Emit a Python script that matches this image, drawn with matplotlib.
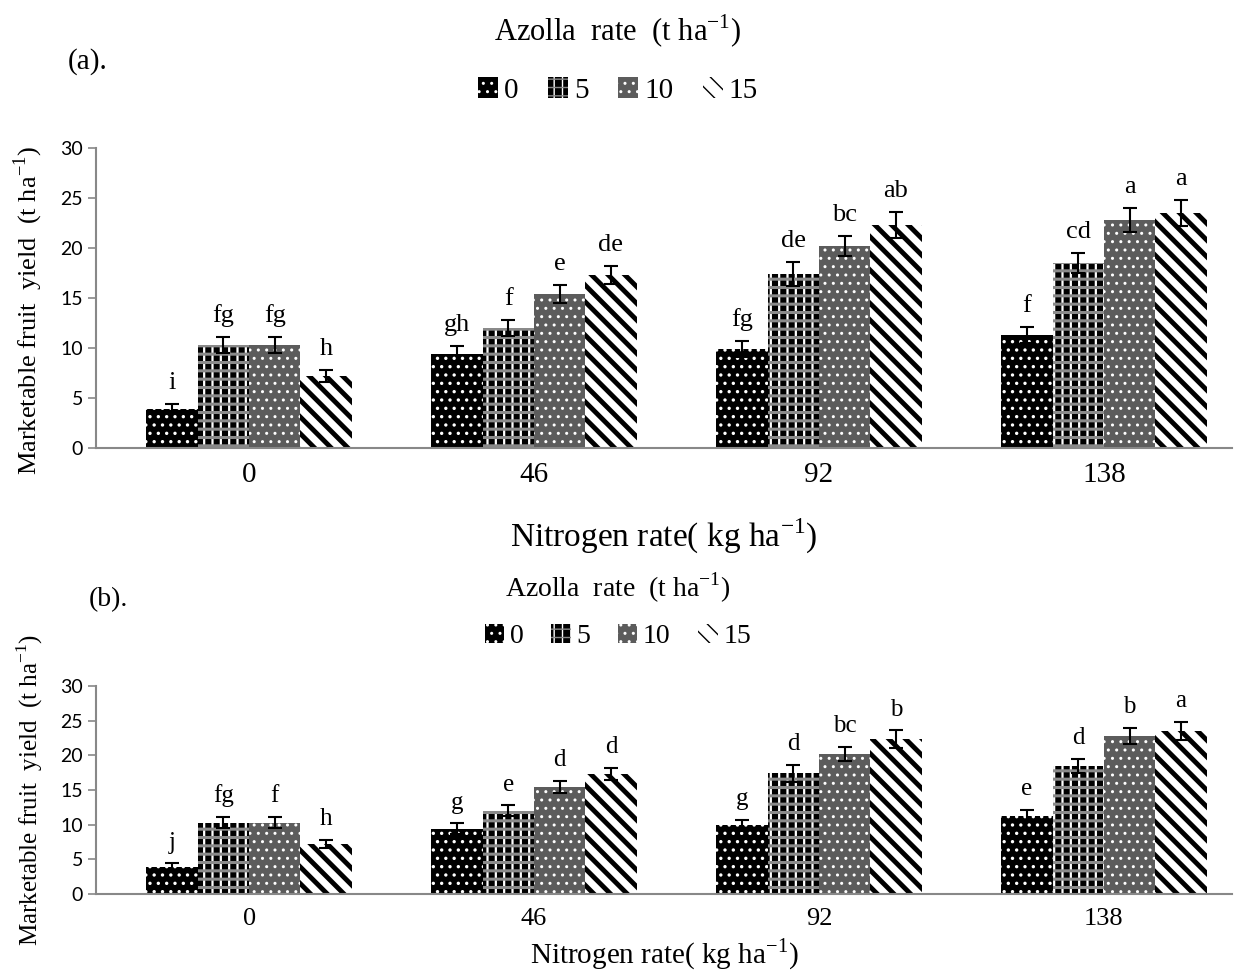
import matplotlib.pyplot as plt
import numpy as np

plt.rcParams['font.family'] = ['Liberation Serif', 'DejaVu Serif']

# nitrogen rates (x groups) and azolla rates (series)
nitrogen = ['0', '46', '92', '138']
azolla = ['0', '5', '10', '15']

# marketable fruit yield, t/ha, one list per azolla rate
yield_az0 = [3.9, 9.4, 9.9, 11.3]
yield_az5 = [10.3, 12.0, 17.4, 18.5]
yield_az10 = [10.3, 15.4, 20.2, 22.8]
yield_az15 = [7.2, 17.3, 22.3, 23.5]

err_az0 = [0.5, 0.8, 0.8, 0.8]
err_az5 = [0.8, 0.8, 1.2, 1.0]
err_az10 = [0.8, 0.9, 1.0, 1.2]
err_az15 = [0.6, 0.9, 1.3, 1.3]

# mean separation letters
letters_a = [['i', 'gh', 'fg', 'f'],
             ['fg', 'f', 'de', 'cd'],
             ['fg', 'e', 'bc', 'a'],
             ['h', 'de', 'ab', 'a']]
letters_b = [['j', 'g', 'g', 'e'],
             ['fg', 'e', 'd', 'd'],
             ['f', 'd', 'bc', 'b'],
             ['h', 'd', 'b', 'a']]

values = [yield_az0, yield_az5, yield_az10, yield_az15]
errors = [err_az0, err_az5, err_az10, err_az15]

# fill layers per series: (face, hatch, hatch colour, hatch width)
# the "5" fill is black blocks split by white columns and grey rows
styles = [
    [('black', '..', 'white', 1.2)],
    [('black', '||', 'white', 1.6), ('none', '--', '#8a8a8a', 2.2)],
    [('#5c5c5c', '..', 'white', 1.0)],
    [('white', '\\\\', 'black', 3.5)],
]

fig = plt.figure(figsize=(12.36, 9.75), dpi=100)
ax_a = fig.add_axes([0.0777, 0.5405, 0.919, 0.3077])
ax_b = fig.add_axes([0.0777, 0.0831, 0.919, 0.2133])

x = np.arange(len(nitrogen))
w = 0.18


def draw_panel(ax, letters, lab_size, cat_size, let_size):
    handles = []
    for i in range(4):
        pos = x + (i - 1.5) * w
        layers = []
        for face, hatch, hcol, hlw in styles[i]:
            with plt.rc_context({'hatch.linewidth': hlw}):
                bars = ax.bar(pos, values[i], w, color=face, edgecolor=hcol,
                              hatch=hatch, linewidth=0, zorder=2)
            layers.append(bars[0])
        ax.errorbar(pos, values[i], yerr=errors[i], fmt='none', ecolor='black',
                    elinewidth=1.5, capsize=5, capthick=1.5, zorder=3)
        for j in range(4):
            ax.annotate(letters[i][j], (pos[j], values[i][j] + errors[i][j]),
                        xytext=(0, 7), textcoords='offset points',
                        ha='center', va='bottom', fontsize=let_size)
        handles.append(tuple(layers))
    ax.set_ylim(0, 30)
    ax.set_yticks(range(0, 31, 5))
    ax.set_xlim(-0.537, 3.449)
    ax.set_xticks(x)
    ax.set_xticklabels(nitrogen, fontsize=cat_size)
    ax.tick_params(axis='x', length=0, pad=10)
    ax.tick_params(axis='y', length=6, color='#888888', width=1.2)
    for t in ax.get_yticklabels():
        t.set_family(['Lato', 'DejaVu Sans'])
        t.set_fontsize(14)
    for s in ['top', 'right']:
        ax.spines[s].set_visible(False)
    for s in ['left', 'bottom']:
        ax.spines[s].set_color('#888888')
        ax.spines[s].set_linewidth(1.5)
    ax.set_ylabel('Marketable fruit  yield  (t ha$^{\\mathregular{-1}}$)',
                  fontsize=lab_size)
    ax.set_xlabel('Nitrogen rate( kg ha$^{\\mathregular{-1}}$)')
    return handles


h_a = draw_panel(ax_a, letters_a, 19, 21, 19)
ax_a.yaxis.set_label_coords(-0.045, 0.46)
ax_a.xaxis.label.set_fontsize(24)
ax_a.xaxis.labelpad = 21

h_b = draw_panel(ax_b, letters_b, 18, 19, 18)
ax_b.yaxis.set_label_coords(-0.045, 0.5)
ax_b.xaxis.label.set_fontsize(21)
ax_b.xaxis.labelpad = 5

fig.text(0.5, 0.968, 'Azolla  rate  (t ha$^{\\mathregular{-1}}$)', ha='center', va='center', fontsize=22)
fig.text(0.055, 0.937, '(a).', ha='left', va='center', fontsize=21)
fig.legend(h_a, azolla, loc='center', bbox_to_anchor=(0.5, 0.907), ncol=4, frameon=False,
           fontsize=21, handlelength=0.7, handleheight=0.7, handletextpad=0.2,
           columnspacing=1.0)

fig.text(0.5, 0.397, 'Azolla  rate  (t ha$^{\\mathregular{-1}}$)', ha='center', va='center', fontsize=20)
fig.text(0.072, 0.385, '(b).', ha='left', va='center', fontsize=20)
fig.legend(h_b, azolla, loc='center', bbox_to_anchor=(0.5, 0.347), ncol=4, frameon=False,
           fontsize=20, handlelength=0.7, handleheight=0.7, handletextpad=0.2,
           columnspacing=1.0)

fig.savefig('out.png', dpi=100)
